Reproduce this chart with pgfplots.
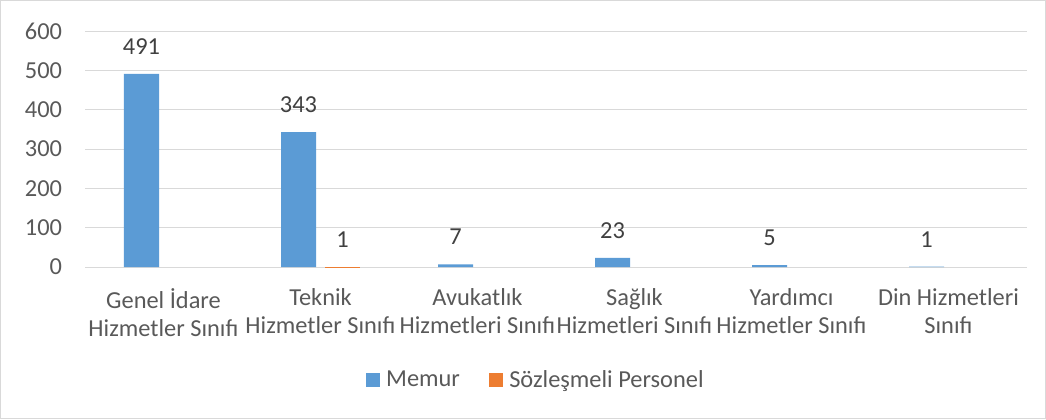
\documentclass[border=0pt]{standalone}
\usepackage{pgfplots}
\pgfplotsset{compat=1.18}
\usepackage{fontspec}
\setmainfont{Carlito}
\definecolor{memur}{HTML}{5B9BD5}
\definecolor{sozl}{HTML}{ED7D31}
\definecolor{gridc}{HTML}{D9D9D9}
\definecolor{txt}{HTML}{595959}
\definecolor{lbl}{HTML}{404040}
\begin{document}
\begin{tikzpicture}
\useasboundingbox (0,0) rectangle (784.5pt,314.25pt);
\draw[gridc, line width=0.75pt] (0.375pt,0.375pt) rectangle (784.125pt,313.875pt);
\begin{axis}[
  at={(63.75pt,114pt)}, anchor=south west,
  scale only axis, width=706.5pt, height=177pt,
  xmin=-0.5, xmax=5.5, ymin=0, ymax=600,
  ytick={0,100,...,600},
  xtick={0,1,2,3,4,5},
  xticklabels={{Genel İdare\\Hizmetler Sınıfı},{Teknik\\Hizmetler Sınıfı},{Avukatlık\\Hizmetleri Sınıfı},{Sağlık\\Hizmetleri Sınıfı},{Yardımcı\\Hizmetler Sınıfı},{Din Hizmetleri\\Sınıfı}},
  axis line style={draw=none},
  ymajorgrids, grid style={gridc, line width=0.75pt},
  major tick length=0pt,
  /pgf/number format/assume math mode=true,
  tick label style={font=\fontsize{18.3}{21}\selectfont, text=txt, inner sep=0pt},
  yticklabel style={anchor=east, xshift=-17pt},
  xticklabel style={align=center, anchor=north, yshift=-16pt},
  ybar, bar width=26.25pt,
  legend style={at={(0.479,-0.479)}, anchor=center, draw=none, fill=none,
    legend columns=2, font=\fontsize{18.3}{21}\selectfont, text=txt,
    /tikz/every even column/.append style={column sep=20pt}},
  legend image code/.code={\fill[#1] (0pt,-5.25pt) rectangle (10.5pt,5.25pt); \path (13pt,0pt);},
  every node near coord/.append style={inner sep=0pt, yshift=14.25pt, font=\fontsize{18.3}{21}\selectfont, text=lbl},
]
\draw[gridc, line width=0.75pt] (axis cs:-0.5,0) -- (axis cs:5.5,0);
\addplot[fill=memur, draw=none, bar shift=-16.5pt, nodes near coords] coordinates {(0,491) (1,343) (2,7) (3,23) (4,5) (5,1)};
\addplot[fill=sozl, draw=none, bar shift=16.5pt, nodes near coords] coordinates {(1,1)};
\legend{Memur, Sözleşmeli Personel}
\end{axis}
\end{tikzpicture}
\end{document}
